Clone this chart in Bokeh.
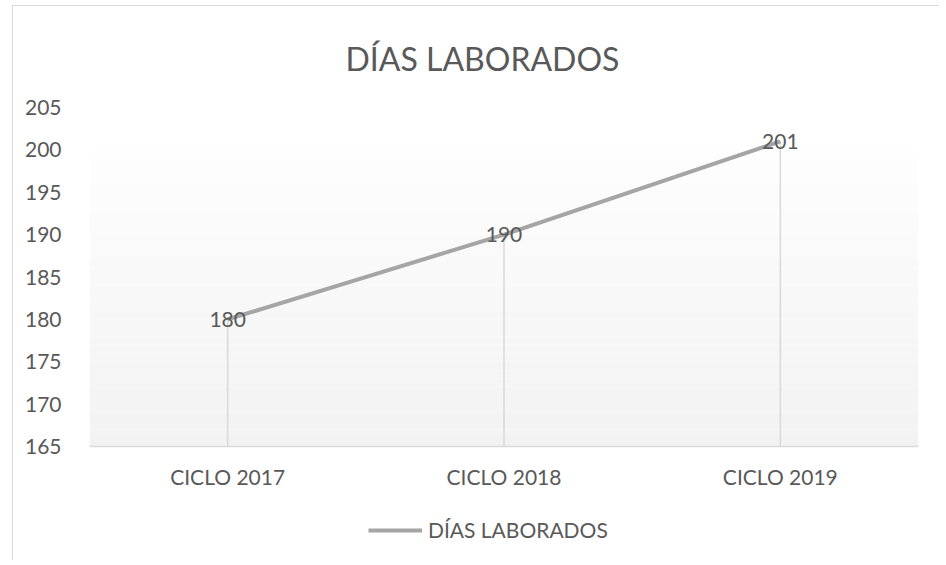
from bokeh.plotting import figure
from bokeh.layouts import column
from bokeh.models import Range1d, FactorRange, Legend, LegendItem, BoxAnnotation, SingleIntervalTicker
from bokeh.core.properties import value
from bokeh.embed import file_html
from bokeh.resources import INLINE

# ---- data ----
categories = ["CICLO 2017", "CICLO 2018", "CICLO 2019"]
dias_laborados = [180, 190, 201]
series_name = "DÍAS LABORADOS"
chart_title = "DÍAS LABORADOS"
y_min, y_max, y_step = 165, 205, 5

FONT = "Lato"
TXT = "#595959"
GRID = "#d9d9d9"
LINE = "#a5a5a5"

p = figure(
    x_range=FactorRange(*categories, range_padding=0),
    y_range=Range1d(y_min, y_max),
    width=926, height=494,
    min_border_left=76, min_border_right=21,
    min_border_top=99, min_border_bottom=54,
    output_backend="svg", toolbar_location=None,
    background_fill_color="white", border_fill_color="white",
)
p.outline_line_color = None
p.xgrid.grid_line_color = None
p.ygrid.grid_line_color = None

# title
p.title.text = chart_title
p.title.align = "left"
p.title.offset = 256
p.title.standoff = 60
p.title.text_font = FONT
p.title.text_font_size = "32px"
p.title.text_font_style = "normal"
p.title.text_color = TXT

# plot-area gradient (white at top to light gray at bottom)
top_c = (254, 254, 254)
bot_c = (242, 242, 242)
n = 35
for i in range(n):
    t = (i + 0.5) / n
    c = tuple(int(round(top_c[k] + (bot_c[k] - top_c[k]) * t)) for k in range(3))
    y_top = 200 - (200 - y_min) * i / n
    y_bot = 200 - (200 - y_min) * (i + 1) / n
    p.add_layout(BoxAnnotation(bottom=y_bot, top=y_top, fill_color="#%02x%02x%02x" % c,
                               fill_alpha=1, line_color=None, level="underlay"))

# drop lines
p.segment(x0=categories, x1=categories, y0=[y_min] * len(categories), y1=dias_laborados,
          line_color=GRID, line_width=1.5)

# series line
r = p.line(categories, dias_laborados, line_color=LINE, line_width=4)

# data labels
p.text(x=categories, y=dias_laborados, text=[str(v) for v in dias_laborados],
       text_align="center", text_baseline="middle", text_color=TXT,
       text_font=value(FONT), text_font_size="21px")

# axes
p.xaxis.axis_line_color = GRID
p.xaxis.axis_line_width = 1.5
p.xaxis.major_tick_line_color = None
p.xaxis.minor_tick_line_color = None
p.xaxis.major_label_standoff = 11
p.xaxis.major_label_text_font = FONT
p.xaxis.major_label_text_font_size = "21px"
p.xaxis.major_label_text_color = TXT

p.yaxis.ticker = SingleIntervalTicker(interval=y_step)
p.yaxis.axis_line_color = None
p.yaxis.major_tick_line_color = None
p.yaxis.minor_tick_line_color = None
p.yaxis.major_label_standoff = 22
p.yaxis.major_label_text_font = FONT
p.yaxis.major_label_text_font_size = "21px"
p.yaxis.major_label_text_color = TXT

# legend strip (separate small figure under the chart; series kept out of its view)
lg = figure(width=926, height=60, x_range=FactorRange(*categories, range_padding=0),
            y_range=Range1d(0, 1),
            x_axis_type=None, y_axis_type=None,
            min_border_left=0, min_border_right=0, min_border_top=0, min_border_bottom=0,
            output_backend="svg", toolbar_location=None,
            background_fill_color="white", border_fill_color="white")
lg.outline_line_color = None
lg.xgrid.grid_line_color = None
lg.ygrid.grid_line_color = None
lr = lg.line(categories, dias_laborados, line_color=LINE, line_width=4)
legend = Legend(items=[LegendItem(label=series_name, renderers=[lr])],
                orientation="horizontal", location=(279, 18),
                glyph_width=54, glyph_height=24, label_standoff=6,
                label_text_font=FONT, label_text_font_size="21px", label_text_color=TXT,
                border_line_color=None, background_fill_alpha=0,
                margin=0, padding=0)
lg.add_layout(legend, "center")

layout = column(p, lg, spacing=0)
layout.styles = {"border-left": "1px solid #d9d9d9", "border-top": "1px solid #d9d9d9",
                 "margin-left": "12px", "margin-top": "5px"}

open("out.html", "w").write(file_html(layout, INLINE))
